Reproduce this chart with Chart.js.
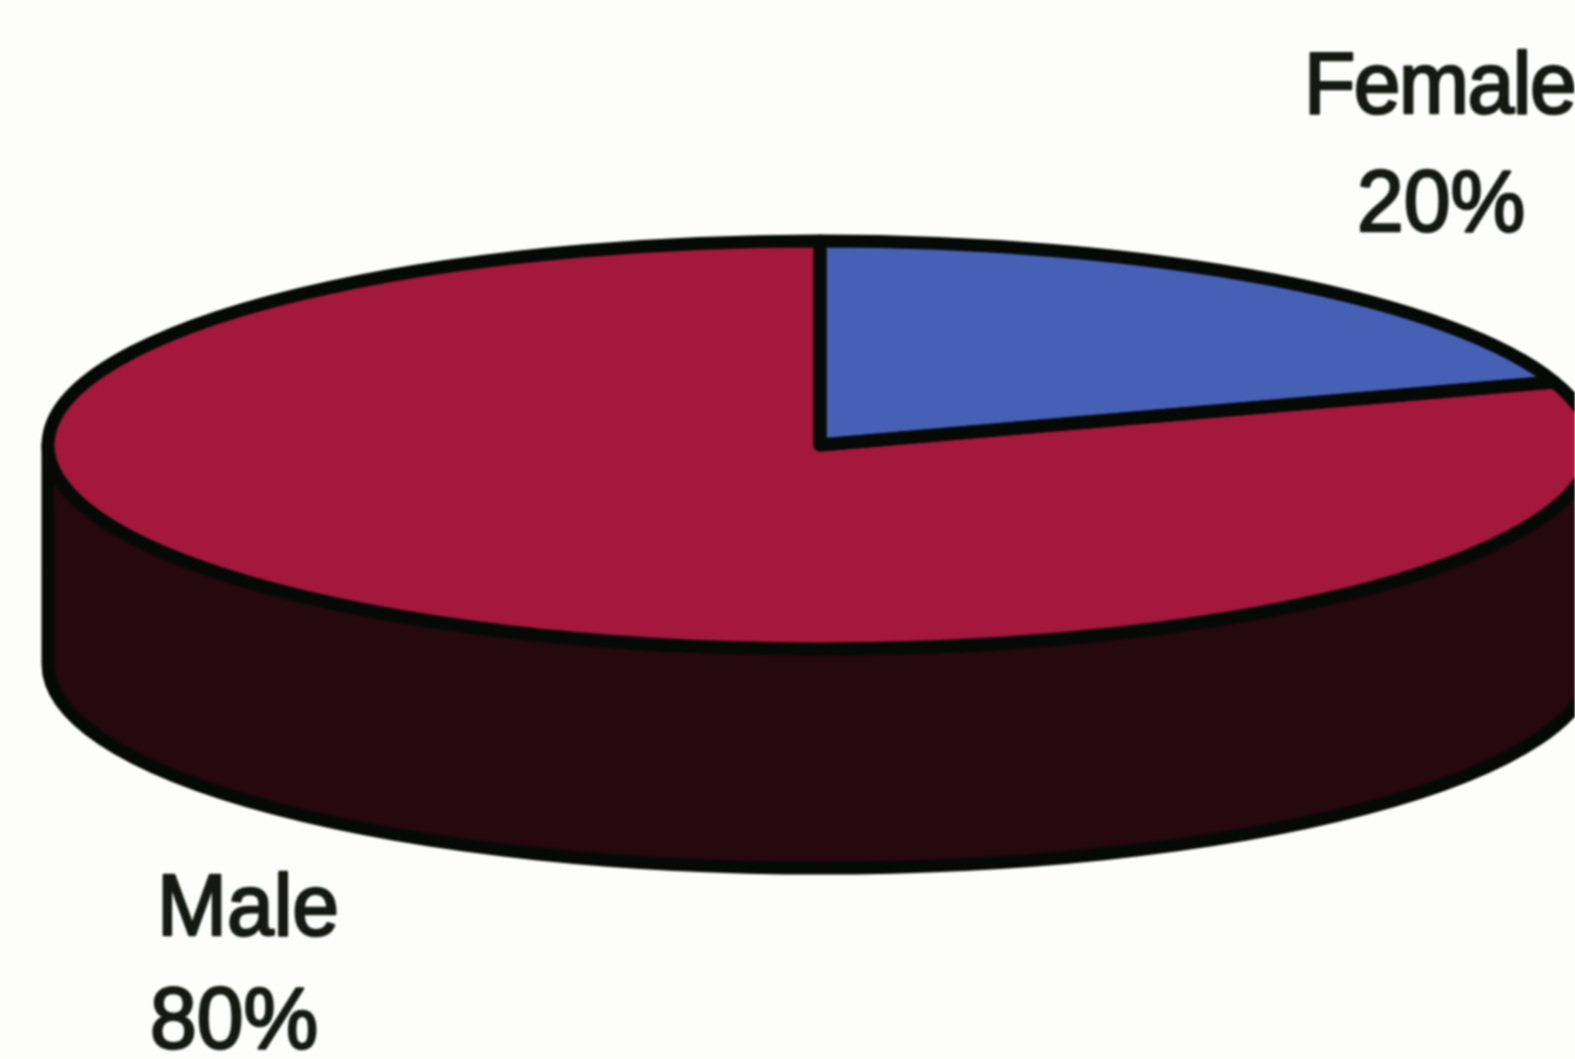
<!DOCTYPE html>
<html>
<head>
<meta charset="utf-8">
<title>Gender split</title>
<script src="https://cdn.jsdelivr.net/npm/chart.js@4"></script>
<style>
  html, body { margin: 0; padding: 0; background: #fdfdfb; overflow: hidden; }
  /* the original is a soft scan */
  #pie { display: block; filter: blur(1px); }
</style>
</head>
<body>
<canvas id="pie" width="1575" height="1059"></canvas>
<script>
const categories = ['Female', 'Male'];
const shares = [20, 80];
const topColors = ['#4660b6', '#a3183c'];
const sideColors = ['#1a2450', '#26080f'];

// the tilted disc on the page
const disc = { cx: 820, cy: 445, rx: 772, ry: 204, depth: 219 };
const outline = '#060a07';
const outlineWidth = 13;

const labelSpots = [
    { x: 1304, nameY: 113, pctX: 1357, pctY: 231, squeeze: '-1.5px' },
    { x: 157, nameY: 935, pctX: 150, pctY: 1048, squeeze: '0px' }
];

function stretchedText(ctx, text, x, y) {
    ctx.save();
    ctx.translate(x, y);
    ctx.scale(1, 1.03);
    ctx.strokeText(text, 0, 0);
    ctx.fillText(text, 0, 0);
    ctx.restore();
}

// Chart.js pies are round, so squash the arcs into an ellipse and add the side wall by hand
const tiltPlugin = {
    id: 'tilt',
    beforeDatasetsDraw(chart) {
        const ctx = chart.ctx;
        const arcs = chart.getDatasetMeta(0).data;
        const r = arcs[0].outerRadius;

        // side wall, only the part of each slice that faces front
        arcs.forEach((arc, i) => {
            const from = Math.max(arc.startAngle, 0);
            const to = Math.min(arc.endAngle, Math.PI);
            if (to <= from) return;
            ctx.beginPath();
            ctx.ellipse(disc.cx, disc.cy + disc.depth, disc.rx, disc.ry, 0, from, to);
            ctx.ellipse(disc.cx, disc.cy, disc.rx, disc.ry, 0, to, from, true);
            ctx.closePath();
            ctx.fillStyle = sideColors[i];
            ctx.fill();
            ctx.strokeStyle = outline;
            ctx.lineWidth = outlineWidth;
            ctx.lineJoin = 'round';
            ctx.stroke();
        });

        ctx.save();
        ctx.translate(disc.cx, disc.cy);
        ctx.scale(disc.rx / r, disc.ry / r);
        ctx.translate(-arcs[0].x, -arcs[0].y);
    },
    afterDatasetsDraw(chart) {
        const ctx = chart.ctx;
        ctx.restore();

        // outlines go on after the transform is gone so the width stays even
        const arcs = chart.getDatasetMeta(0).data;
        arcs.forEach(arc => {
            ctx.beginPath();
            ctx.moveTo(disc.cx, disc.cy);
            ctx.ellipse(disc.cx, disc.cy, disc.rx, disc.ry, 0, arc.startAngle, arc.endAngle);
            ctx.closePath();
            ctx.strokeStyle = outline;
            ctx.lineWidth = outlineWidth;
            ctx.lineJoin = 'round';
            ctx.stroke();
        });

        ctx.fillStyle = '#141a12';
        ctx.strokeStyle = '#141a12';
        ctx.lineWidth = 2.5;
        ctx.textAlign = 'left';
        ctx.textBaseline = 'alphabetic';
        ctx.font = '84px "Liberation Sans", Arial, sans-serif';
        categories.forEach((name, i) => {
            const spot = labelSpots[i];
            ctx.letterSpacing = spot.squeeze;
            stretchedText(ctx, name, spot.x, spot.nameY);
            ctx.letterSpacing = '0px';
            stretchedText(ctx, shares[i] + '%', spot.pctX, spot.pctY);
        });
    }
};

new Chart(document.getElementById('pie'), {
    type: 'pie',
    data: {
        labels: categories,
        datasets: [{
            data: shares,
            backgroundColor: topColors,
            borderWidth: 0,
            clip: false
        }]
    },
    options: {
        responsive: false,
        animation: false,
        devicePixelRatio: 1,
        layout: { padding: 0 },
        plugins: {
            legend: { display: false },
            tooltip: { enabled: false }
        }
    },
    plugins: [tiltPlugin]
});
</script>
</body>
</html>
